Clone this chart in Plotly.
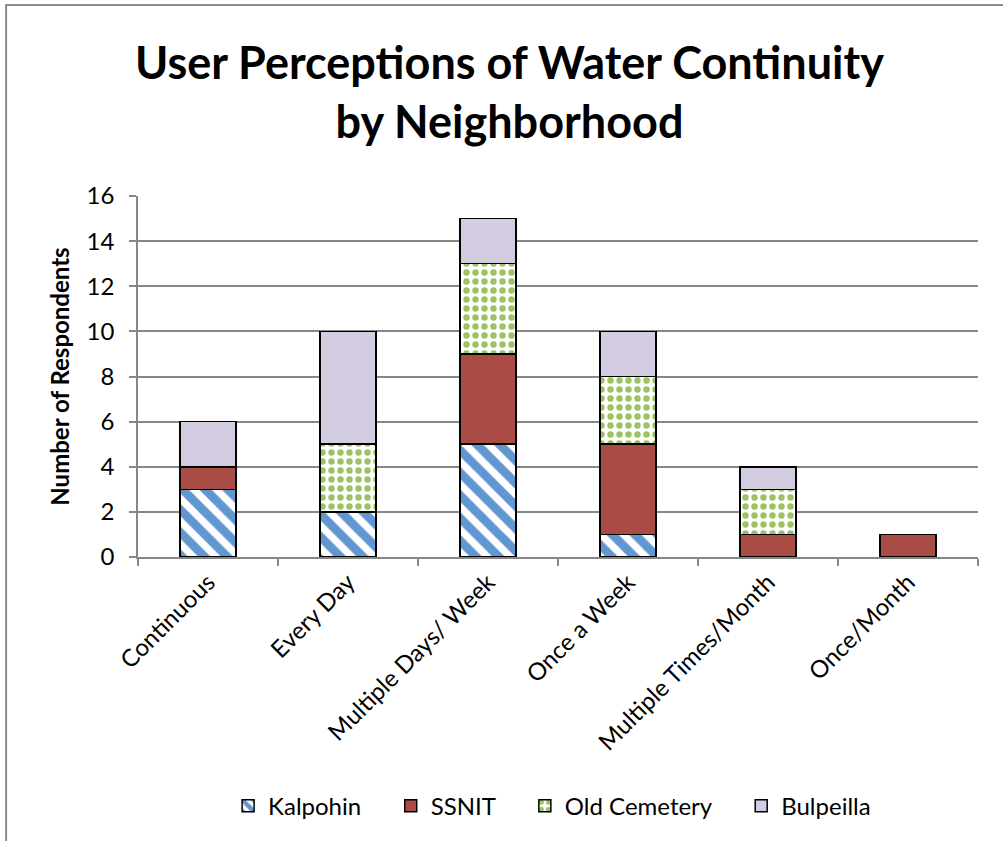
import plotly.graph_objects as go

categories = ["Continuous", "Every Day", "Multiple Days/ Week", "Once a Week",
              "Multiple Times/Month", "Once/Month"]
kalpohin = [3, 2, 5, 1, 0, 0]
ssnit = [1, 0, 4, 4, 1, 1]
old_cemetery = [0, 3, 4, 3, 2, 0]
bulpeilla = [2, 5, 2, 2, 1, 0]
y_ticks = [0, 2, 4, 6, 8, 10, 12, 14, 16]

FONT = "Lato"
PAD = "\u00a0" * 4  # extra room between legend entries
outline = dict(color="black", width=1.5)

fig = go.Figure()
fig.add_trace(go.Bar(
    name="Kalpohin" + PAD, x=categories, y=kalpohin,
    marker=dict(color="white", line=outline,
                pattern=dict(shape="\\", fgcolor="#6197D0", bgcolor="white",
                             size=16, solidity=0.55, fillmode="replace")),
))
fig.add_trace(go.Bar(
    name="SSNIT" + PAD, x=categories, y=ssnit,
    marker=dict(color="#A84C45", line=outline),
))
fig.add_trace(go.Bar(
    name="Old Cemetery" + PAD, x=categories, y=old_cemetery,
    marker=dict(color="white", line=outline,
                pattern=dict(shape=".", fgcolor="#9CC262", bgcolor="white",
                             size=9, solidity=0.4, fillmode="replace")),
))
fig.add_trace(go.Bar(
    name="Bulpeilla", x=categories, y=bulpeilla,
    marker=dict(color="#D4CCE0", line=outline),
))

fig.update_layout(
    barmode="stack",
    bargap=0.6,
    width=1003, height=841,
    margin=dict(l=138, r=25, t=196, b=284),
    paper_bgcolor="white", plot_bgcolor="white",
    font=dict(family=FONT, size=24, color="black"),
    title=dict(
        text="<b>User Perceptions of Water Continuity<br>by Neighborhood</b>",
        x=0.508, xanchor="center", y=0.906, yanchor="middle",
        font=dict(family=FONT, size=45, color="black"),
    ),
    legend=dict(
        orientation="h", x=0.493, xanchor="center", y=-0.69, yanchor="middle",
        font=dict(family=FONT, size=24), traceorder="normal",
        itemwidth=30,
    ),
    xaxis=dict(
        showline=True, linecolor="#878787", linewidth=1.5,
        ticks="outside", ticklen=7, tickcolor="#878787", tickwidth=1.5,
        tickson="boundaries", tickangle=-45,
        tickfont=dict(family=FONT, size=24),
        showgrid=False,
    ),
    yaxis=dict(
        range=[0, 16], tickvals=y_ticks,
        showline=True, linecolor="#878787", linewidth=1.5,
        ticks="outside", ticklen=7, tickcolor="#878787", tickwidth=1.5,
        ticklabelstandoff=10,
        showgrid=True, gridcolor="#878787", gridwidth=1.5,
        tickfont=dict(family=FONT, size=24),
        title=dict(text="<b>Number of Respondents</b>", standoff=10,
                   font=dict(family=FONT, size=24)),
        zeroline=False,
    ),
)

# outer chart-area frame
fig.add_shape(type="rect", xref="paper", yref="paper",
              x0=-0.157, x1=1.1, y0=-0.85, y1=1.529,
              line=dict(color="#8C8C8C", width=2), layer="below")

fig.write_html("out.html")
